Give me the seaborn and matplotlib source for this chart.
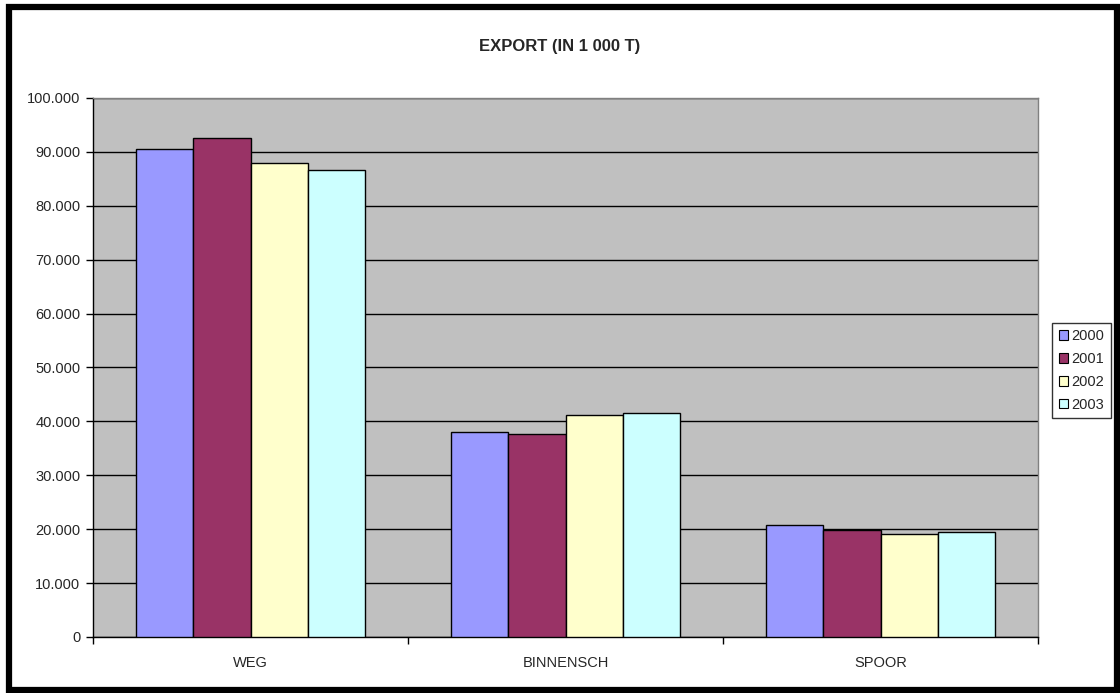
import matplotlib
matplotlib.use("Agg")
import matplotlib.pyplot as plt
import seaborn as sns
import pandas as pd
from matplotlib.patches import Rectangle
from matplotlib.ticker import FuncFormatter, MultipleLocator

categories = ["WEG", "BINNENSCH", "SPOOR"]
years = ["2000", "2001", "2002", "2003"]
v2000 = [90500, 38000, 20800]
v2001 = [92600, 37700, 19800]
v2002 = [87900, 41200, 19100]
v2003 = [86700, 41600, 19500]
colors = ["#9999FF", "#993366", "#FFFFCC", "#CCFFFF"]

rows = []
for y, vals in zip(years, [v2000, v2001, v2002, v2003]):
    for c, v in zip(categories, vals):
        rows.append({"cat": c, "year": y, "value": v})
df = pd.DataFrame(rows)

sns.set_style("white")
plt.rcParams["font.family"] = ["Liberation Sans", "DejaVu Sans"]

fig = plt.figure(figsize=(11.2, 6.93), dpi=100)
ax = fig.add_axes([93/1120, 1 - 637/693, 945/1120, (637-98)/693])
ax.set_facecolor("#C0C0C0")

sns.barplot(data=df, x="cat", y="value", hue="year", palette=colors,
            width=0.728, edgecolor="black", linewidth=1, saturation=1,
            ax=ax, zorder=3)

ax.set_ylim(0, 100000)
ax.set_xlim(-0.5, 2.5)
ax.yaxis.set_major_locator(MultipleLocator(10000))
ax.yaxis.set_major_formatter(FuncFormatter(lambda v, p: "0" if v == 0 else f"{int(v):,}".replace(",", ".")))
ax.grid(axis="y", color="black", linewidth=1, zorder=1)
ax.set_axisbelow(True)
ax.set_xlabel("")
ax.set_ylabel("")
for s in ["top", "right"]:
    ax.spines[s].set_color("#808080")
    ax.spines[s].set_linewidth(1)
for s in ["left", "bottom"]:
    ax.spines[s].set_color("black")
    ax.spines[s].set_linewidth(1)

ax.tick_params(axis="y", which="major", direction="out", length=5, width=1, color="black",
               labelsize=10.5, pad=4, left=True)
ax.set_xticks([0, 1, 2])
ax.set_xticklabels(categories, fontsize=10.5)
ax.tick_params(axis="x", which="major", length=0, pad=14)
ax.set_xticks([-0.5, 0.5, 1.5, 2.5], minor=True)
ax.tick_params(axis="x", which="minor", direction="out", length=5, width=1, color="black", bottom=True)

leg = ax.legend(loc="center left", bbox_to_anchor=(1 + 14/945, 0.5 - 3/539), frameon=True, fontsize=10.5,
                handlelength=0.65, handleheight=0.65, handletextpad=0.25, borderpad=0.45,
                labelspacing=0.6, fancybox=False, borderaxespad=0)
leg.get_frame().set_edgecolor("black")
leg.get_frame().set_linewidth(1)
for h in leg.legend_handles:
    h.set_edgecolor("black")
    h.set_linewidth(0.8)

fig.text(0.5, 1 - 47/693, "EXPORT (IN 1 000 T)", ha="center", va="center",
         fontsize=12, fontweight="bold")

fig.patches.append(Rectangle((9/1120, 3/693), 1108/1120, 683/693, transform=fig.transFigure,
                             fill=False, edgecolor="black", linewidth=4.5))

fig.savefig("out.png", dpi=100)
